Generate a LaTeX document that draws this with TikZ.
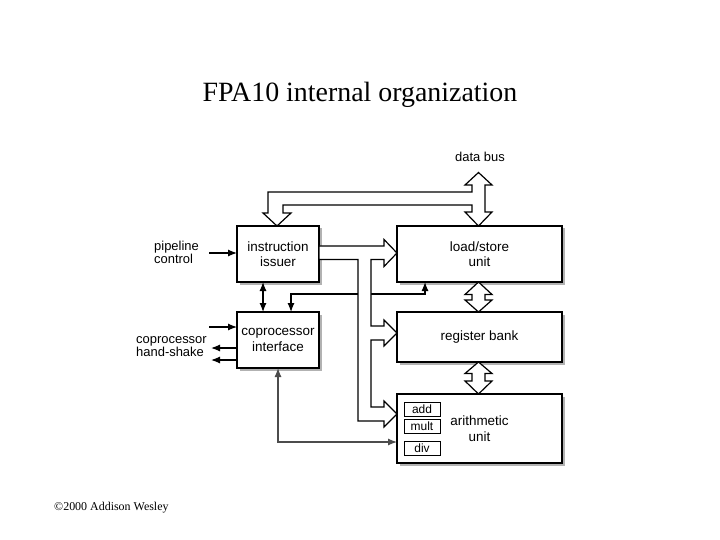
\documentclass[tikz,border=0pt]{standalone}
\usepackage{fontspec}
\setmainfont{Liberation Serif}
\newfontfamily\arialf{Liberation Sans}
\usetikzlibrary{arrows.meta,shadows,calc}
\begin{document}
\begin{tikzpicture}[x=1bp,y=-1bp,
  box/.style={draw,line width=1.2bp,fill=white,inner sep=0,outer sep=0,align=center,
    font=\arialf\fontsize{13.5}{15.5}\selectfont,
    drop shadow={shadow xshift=2.5bp,shadow yshift=-2.5bp,fill=black!30,opacity=1}},
  sub/.style={draw,line width=1bp,fill=white,inner sep=0,outer sep=0,minimum width=36bp,
    minimum height=14bp,font=\arialf\fontsize{12}{14}\selectfont},
  lbl/.style={font=\arialf\fontsize{13}{13}\selectfont,align=left,inner sep=0},
  conn/.style={line width=1.2bp,-{Latex[length=9bp,width=7bp]}},
  dconn/.style={line width=1.2bp,{Latex[length=9bp,width=7bp]}-{Latex[length=9bp,width=7bp]}},
  bus/.style={line width=1.2bp,fill=white,line join=miter}]
\fill[white] (0,0) rectangle (720,540);
\useasboundingbox (0,0) rectangle (720,540);

% title and copyright
\node[anchor=base,font=\fontsize{28}{32}\selectfont,inner sep=0] (title) at (360,102) {FPA10 internal organization};
\node[anchor=base west,font=\fontsize{12}{14}\selectfont,inner sep=0] (copy) at (54,510) {\textcopyright 2000 Addison Wesley};

% boxes
\node[box,minimum width=82bp,minimum height=56bp] (iss) at (278,254) {instruction\\issuer};
\node[box,minimum width=165bp,minimum height=56bp] (ls) at (479.5,254) {load/store\\unit};
\node[box,minimum width=82bp,minimum height=56bp] (cop) at (278,340) {coprocessor\\interface};
\node[box,minimum width=165bp,minimum height=50bp] (rb) at (479.5,337) {register bank};
\node[box,minimum width=165bp,minimum height=69bp] (au) at (479.5,428.5) {arithmetic\\unit};
\node[sub] (add) at (422,409) {add};
\node[sub] (mult) at (422,426.5) {mult};
\node[sub] (div) at (422,448) {div};

% labels
\node[lbl] (db) at (480,157) {data bus};
\node[lbl,anchor=west] (pcl) at (154,252) {pipeline\\control};
\node[lbl,anchor=west] (chs) at (136,347) {coprocessor\\hand-shake};

% thin connectors
\coordinate (pc) at (209,253);
\draw[conn] (pc) -- (pc -| iss.west);
\coordinate (ci) at (209,327);
\draw[conn] (ci) -- (ci -| cop.west);
\coordinate (co1) at (211,348);
\coordinate (co2) at (211,360);
\draw[conn] (co1 -| cop.west) -- (co1);
\draw[conn] (co2 -| cop.west) -- (co2);
\draw[dconn] ($(iss.south west)+(26,0)$) -- ($(cop.north west)+(26,0)$);
\draw[dconn] ($(cop.north west)+(54,0)$) |- ($(ls.south west)+(28,12)$) -- ($(ls.south west)+(28,0)$);
\draw[dconn,draw=black!70] (cop.south) |- ($(au.north west)+(0,48)$);

% hollow buses
\draw[bus] (478.5,172.5) -- (492,185) -- (485,185) -- (485,212) -- (492,212) -- (478.5,226)
  -- (465,212) -- (472,212) -- (472,205) -- (283,205) -- (283,213) -- (291,213) -- (277,226)
  -- (263,213) -- (268,213) -- (268,192) -- (472,192) -- (472,185) -- (465,185) -- cycle;
\draw[bus] (319,246) -- (384,246) -- (384,239.5) -- (397,253) -- (384,266.5) -- (384,259.5)
  -- (371,259.5) -- (371,326) -- (384,326) -- (384,320) -- (397,333) -- (384,346) -- (384,340)
  -- (371,340) -- (371,407) -- (384,407) -- (384,401) -- (397,414) -- (384,427) -- (384,421)
  -- (358,421) -- (358,259.5) -- (319,259.5) -- cycle;
\draw[bus] (478.5,282) -- (492,294.5) -- (485,294.5) -- (485,300) -- (492,300) -- (478.5,312)
  -- (465,300) -- (472,300) -- (472,294.5) -- (465,294.5) -- cycle;
\draw[bus] (478.5,362) -- (492,373.5) -- (485,373.5) -- (485,381) -- (492,381) -- (478.5,394)
  -- (465,381) -- (472,381) -- (472,373.5) -- (465,373.5) -- cycle;
\end{tikzpicture}
\end{document}
